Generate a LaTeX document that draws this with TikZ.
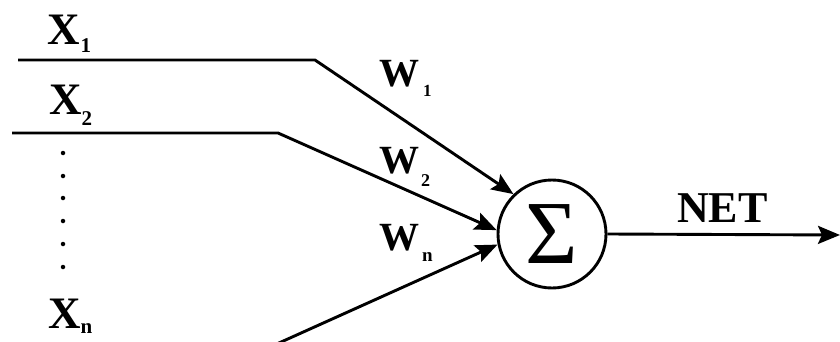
\documentclass[tikz,border=0pt]{standalone}
\usepackage{fontspec}
\setmainfont{Liberation Serif}
\usetikzlibrary{arrows.meta}
\tikzset{
  wire/.style={line width=2.9pt, line join=miter},
  arrowed/.style={wire, -{Stealth[length=22pt,width=18pt,inset=4pt]}},
  biglabel/.style={inner sep=0pt, anchor=base west, font=\bfseries\fontsize{45}{45}\selectfont},
  wlabel/.style={inner sep=0pt, anchor=base west, font=\bfseries\fontsize{40}{40}\selectfont},
  sumnode/.style={circle, draw, line width=2.9pt, minimum size=108pt, inner sep=0pt,
                  font=\fontsize{90}{90}\selectfont},
  dotmark/.style={circle, fill, inner sep=0pt, minimum size=4.5pt}
}
\newcommand{\lowsub}[2]{\raisebox{#1}{\fontsize{21}{21}\selectfont #2}}
\begin{document}
\begin{tikzpicture}[x=1pt,y=-1pt]
  \clip (0,0) rectangle (840,342);
  \fill[white] (0,0) rectangle (840,342);

  % summing unit
  \node[sumnode] (sum) at (552,234) {Σ};

  % input labels
  \node[biglabel] (x1) at (47,45)  {X\kern1pt\lowsub{-8pt}{1}};
  \node[biglabel] (x2) at (49,115) {X\lowsub{-10pt}{2}};
  \node[biglabel] (xn) at (48,328) {X\lowsub{-5pt}{n}};

  % weight labels
  \node[wlabel] (w1) at (379,87)  {W\kern4pt\lowsub{-10pt}{\fontsize{17}{17}\selectfont 1}};
  \node[wlabel] (w2) at (379,173) {W\kern2pt\lowsub{-13pt}{\fontsize{18}{18}\selectfont 2}};
  \node[wlabel] (wn) at (379,250) {W\kern3pt\lowsub{-11pt}{\fontsize{19}{19}\selectfont n}};

  % output label
  \node[biglabel, font=\bfseries\fontsize{44}{44}\selectfont] (net) at (677,222) {NET};

  % dots between the second and last input
  \foreach \yy [count=\k] in {153,176,198,221,244,267}
    \node[dotmark] (dot\k) at (63,\yy) {};

  % wire end points
  \coordinate (in1) at (18,60);
  \coordinate (b1)  at (315,60);
  \coordinate (in2) at (12,133);
  \coordinate (b2)  at (278,133);
  \coordinate (inn) at (270,347);
  \coordinate (out) at (840,235);

  % connectors
  \draw[arrowed] (in1) -- (b1) -- (sum.134);
  \draw[arrowed] (in2) -- (b2) -- (sum.176);
  \draw[arrowed] (inn) -- (sum.191);
  \draw[arrowed] (sum.east) -- (out);
\end{tikzpicture}
\end{document}
